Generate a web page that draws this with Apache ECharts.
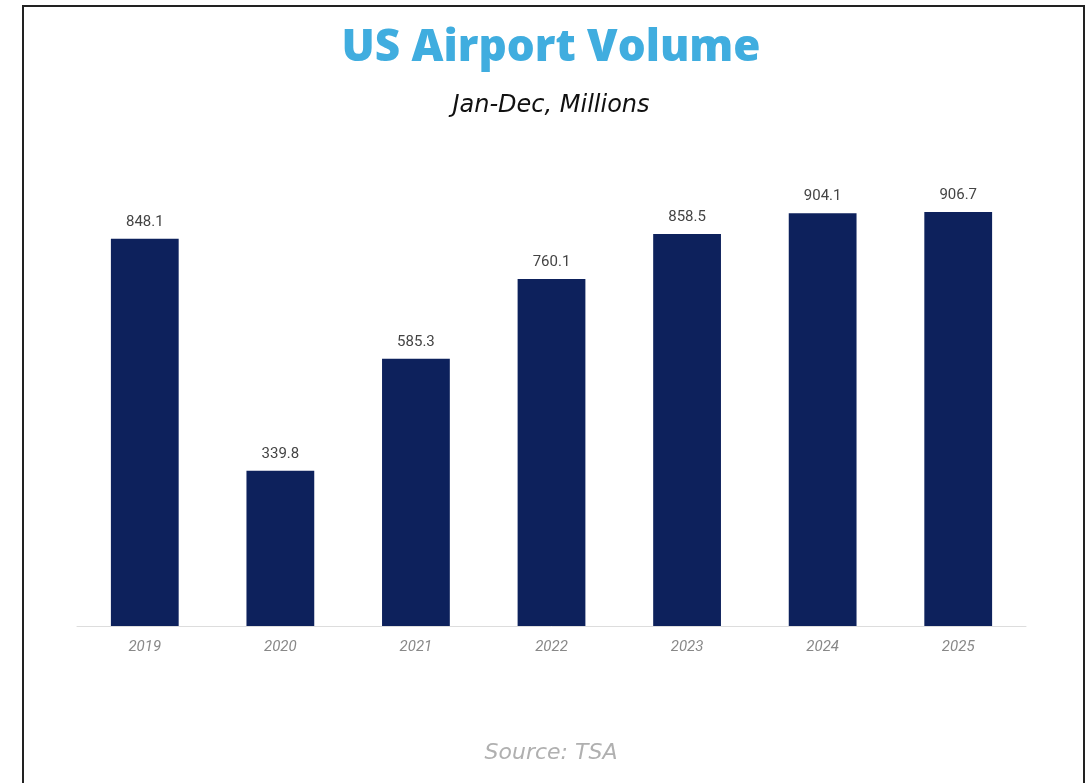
<!DOCTYPE html>
<html>
<head>
<meta charset="utf-8">
<title>US Airport Volume</title>
<script src="https://cdn.jsdelivr.net/npm/echarts@6/dist/echarts.min.js"></script>
<style>
  html, body { margin: 0; padding: 0; background: #fff; }
  #chart { width: 1092px; height: 783px; }
</style>
</head>
<body>
<div id="chart"></div>
<script>
// data
const years = ["2019", "2020", "2021", "2022", "2023", "2024", "2025"];
const volume = [848.1, 339.8, 585.3, 760.1, 858.5, 904.1, 906.7];

const myChart = echarts.init(document.getElementById("chart"));

myChart.setOption({
  animation: false,
  title: [
    {
      text: "US Airport Volume",
      left: 546,
      textAlign: "center",
      top: 21,
      textStyle: {
        fontFamily: "Open Sans",
        fontWeight: 800,
        fontSize: 44,
        color: "#40addf",
      },
    },
    {
      text: "Jan-Dec, Millions",
      left: 546,
      textAlign: "center",
      top: 89,
      textStyle: {
        fontFamily: "DejaVu Sans",
        fontStyle: "italic",
        fontWeight: "normal",
        fontSize: 24,
        color: "#111",
      },
    },
    {
      text: "Source: TSA",
      left: 546,
      textAlign: "center",
      top: 737,
      textStyle: {
        fontFamily: "DejaVu Sans",
        fontStyle: "italic",
        fontWeight: "normal",
        fontSize: 22,
        color: "#b0b0b0",
      },
    },
  ],
  // frame round the whole card
  graphic: [
    {
      type: "rect",
      shape: { x: 23, y: 6, width: 1061, height: 800 },
      style: { fill: "none", stroke: "#222", lineWidth: 2 },
    },
  ],
  grid: {
    left: 77,
    right: 66,
    top: 169.4,
    bottom: 157,
  },
  xAxis: {
    type: "category",
    data: years,
    axisLine: { lineStyle: { color: "#ddd", width: 1 } },
    axisTick: { show: false },
    axisLabel: {
      margin: 14,
      fontFamily: "Roboto",
      fontStyle: "italic",
      fontSize: 15,
      color: "#888",
    },
  },
  yAxis: {
    type: "value",
    min: 0,
    max: 1000,
    show: false,
  },
  series: [
    {
      type: "bar",
      data: volume,
      barWidth: "50%",
      itemStyle: { color: "#0d215c" },
      label: {
        show: true,
        position: "top",
        distance: 9,
        fontFamily: "Roboto",
        fontSize: 15,
        color: "#444",
      },
    },
  ],
});
</script>
</body>
</html>
